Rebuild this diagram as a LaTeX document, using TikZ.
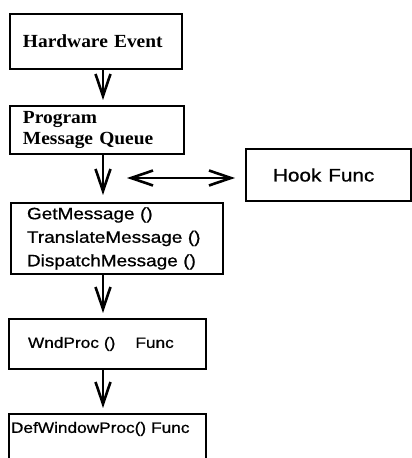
\documentclass[tikz,border=0pt]{standalone}
\usepackage{fontspec}
\setmainfont{Liberation Serif}
\newfontfamily\eventfont[FakeStretch=1.05]{Liberation Serif}
\newfontfamily\funcfont[FakeStretch=1.15,FakeBold=0.8]{Liberation Sans}
\usetikzlibrary{arrows.meta}

\tikzset{
    box/.style={draw, line width=2pt, rectangle, anchor=north west, align=left},
    flow/.style={line width=2.6pt, -{Straight Barb[length=22pt,width=15pt,line width=2.6pt]}},
    both/.style={line width=2.6pt, {Straight Barb[length=22pt,width=15pt,line width=2.6pt]}-{Straight Barb[length=22pt,width=15pt,line width=2.6pt]}},
}

\begin{document}
\begin{tikzpicture}[x=1pt,y=1pt]
    {
    \def\serif{\eventfont\bfseries\fontsize{18.5}{21}\selectfont}
    \def\sans{\funcfont\fontsize{16.5}{23.5}\selectfont}
    \def\minor{\funcfont\fontsize{15}{18}\selectfont}

    \clip (0,0) rectangle (412,458);

    \node[box, font=\serif, minimum width=172pt, minimum height=55pt, inner xsep=13pt, text width=146pt] (event) at (9,445) {Hardware Event};
    \node[box, font=\serif, minimum width=174pt, minimum height=48pt, inner xsep=13pt, text width=148pt] (queue) at (9,353) {Program\\Message Queue};
    \node[box, font=\sans, minimum width=201pt, minimum height=71pt, inner xsep=16pt, text width=180pt] (loop) at (10,256) {GetMessage ()\\TranslateMessage ()\\DispatchMessage ()};
    \node[box, font=\minor, minimum width=197pt, minimum height=50pt, inner xsep=19pt, text width=159pt] (wndproc) at (8,140) {WndProc ()\hspace{20pt}Func};
    \node[box, font=\minor, minimum width=197pt, inner xsep=2pt, inner ysep=8pt, text width=193pt, text depth=40pt] (defproc) at (8,45) {DefWindowProc() Func};
    \node[box, font=\funcfont\fontsize{18}{20}\selectfont, minimum width=165pt, minimum height=52pt, inner xsep=27pt, text width=111pt] (hook) at (245,310) {Hook\hspace{7pt}Func};

    \coordinate (spine) at (103,0);
    \coordinate (tap) at ([xshift=-118pt,yshift=-3pt]hook.west);

    \draw[flow] (event.south -| spine) -- ([yshift=5pt]queue.north -| spine);
    \draw[flow] (queue.south -| spine) -- ([yshift=7pt]loop.north -| spine);
    \draw[flow] (loop.south -| spine) -- ([yshift=5pt]wndproc.north -| spine);
    \draw[flow] (wndproc.south -| spine) -- ([yshift=5pt]defproc.north -| spine);
    \draw[both] (tap) -- ([xshift=-10pt,yshift=-3pt]hook.west);
    }
\end{tikzpicture}
\end{document}
